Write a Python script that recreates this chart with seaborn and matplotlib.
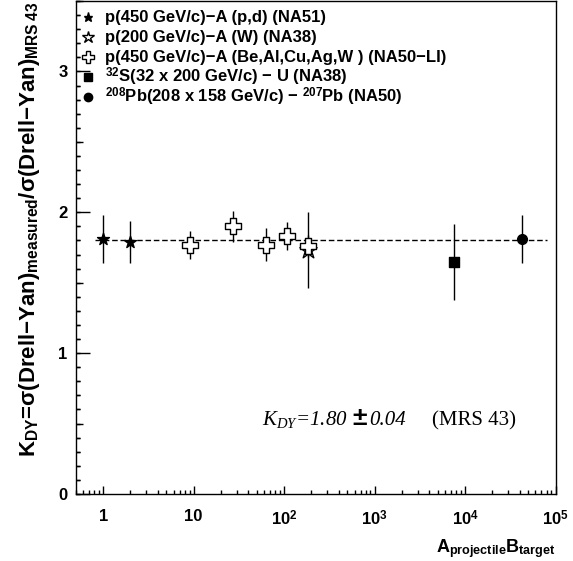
import numpy as np
import pandas as pd
import matplotlib
matplotlib.use("Agg")
import matplotlib.pyplot as plt
import seaborn as sns
from matplotlib.ticker import FixedLocator, NullFormatter, MultipleLocator

# ---- data ----
na51_x = [1, 2]
na51_y = [1.81, 1.79]
na51_err = [0.17, 0.15]

na38p_x = [184]
na38p_y = [1.73]
na38p_err = [0.27]

na50li_x = [9, 27, 63.5, 108, 184]
na50li_y = [1.77, 1.90, 1.77, 1.83, 1.76]
na50li_err = [0.10, 0.11, 0.115, 0.10, 0.08]

su_x = [7616]
su_y = [1.65]
su_err = [0.27]

pbpb_x = [43056]
pbpb_y = [1.81]
pbpb_err = [0.17]

kdy = 1.80
kdy_err = 0.04
kdy_range = [0.82, 8.0e4]

labels = [
    "p(450 GeV/c)−A (p,d) (NA51)",
    "p(200 GeV/c)−A (W) (NA38)",
    "p(450 GeV/c)−A (Be,Al,Cu,Ag,W ) (NA50−LI)",
    r"$^{32}$S(32 x 200 GeV/c) − U (NA38)",
    r"$^{208}$Pb(208 x 158 GeV/c) − $^{207}$Pb (NA50)",
]
xtick_vals = [1, 10, 100, 1000, 1e4, 1e5]
xtick_labels = ["1", "10", r"$10^{2}$", r"$10^{3}$", r"$10^{4}$", r"$10^{5}$"]
ytick_vals = [0, 1, 2, 3]
ytick_mid = [0.5, 1.5, 2.5, 3.5]

SANS = "Liberation Sans"
sns.set_theme(style="ticks")
plt.rcParams["font.family"] = [SANS, "DejaVu Sans"]
plt.rcParams["mathtext.fontset"] = "custom"
plt.rcParams["mathtext.rm"] = SANS + ":bold"
plt.rcParams["mathtext.bf"] = SANS + ":bold"
plt.rcParams["mathtext.it"] = "Liberation Serif:italic"
plt.rcParams["axes.unicode_minus"] = True
for k in ["text.color", "axes.labelcolor", "xtick.color", "ytick.color", "axes.edgecolor"]:
    plt.rcParams[k] = "black"

W, H = 573, 561
AX_L, AX_R, AX_T, AX_B = 76, 555.5, 1, 494
fig = plt.figure(figsize=(W / 100, H / 100), dpi=100)
ax = fig.add_axes([AX_L / W, (H - AX_B) / H, (AX_R - AX_L) / W, (AX_B - AX_T) / H])
ax.set_xscale("log")
ax.set_xlim(0.5, 1e5)
ax.set_ylim(0, 3.5)


def fx(px):
    return (px - AX_L) / (AX_R - AX_L)


def fy(py):
    return (AX_B - py) / (AX_B - AX_T)


# reference line
ax.plot(kdy_range, [kdy, kdy], ls=(0, (4, 2)), color="black", lw=1.0, zorder=1)

series = [
    (na51_x, na51_y, na51_err, "*", 9, 6.5, "black", labels[0]),
    (na38p_x, na38p_y, na38p_err, "*", 13, 9, "white", labels[1]),
    (na50li_x, na50li_y, na50li_err, "P", 12, 8.5, "white", labels[2]),
    (su_x, su_y, su_err, "s", 6.5, 5.5, "black", labels[3]),
    (pbpb_x, pbpb_y, pbpb_err, "o", 7, 6, "black", labels[4]),
]
row_base = 22.0
row_step = 20.0
for i, (xs, ys, es, mk, ms, lms, fc, lab) in enumerate(series):
    ax.errorbar(xs, ys, yerr=es, fmt="none", ecolor="black", elinewidth=1.0, capsize=0, zorder=2)
    df = pd.DataFrame({"x": xs, "y": ys})
    sns.scatterplot(data=df, x="x", y="y", marker=mk, s=ms ** 2, color=fc,
                    edgecolor="black", linewidth=1.0, ax=ax, zorder=3, legend=False)
    # legend entry
    base = row_base + i * row_step
    ax.plot([fx(88)], [fy(base - 5.5)], ls="none", marker=mk, markersize=lms,
            markerfacecolor=fc, markeredgecolor="black", markeredgewidth=1.0,
            transform=ax.transAxes, clip_on=False)
    ax.text(fx(105), fy(base), lab, transform=ax.transAxes, ha="left", va="baseline",
            fontsize=12, fontweight="bold", family=SANS)

# ticks
ax.xaxis.set_major_locator(FixedLocator(xtick_vals))
ax.set_xticklabels(xtick_labels)
minors = [m * 10.0 ** d for d in range(-1, 5) for m in range(2, 10)]
ax.xaxis.set_minor_locator(FixedLocator([v for v in minors if 0.5 <= v <= 1e5]))
ax.xaxis.set_minor_formatter(NullFormatter())
ax.yaxis.set_major_locator(FixedLocator(ytick_vals))
ax.yaxis.set_minor_locator(MultipleLocator(0.1))
ax.yaxis.set_minor_formatter(NullFormatter())
ax.tick_params(axis="x", which="major", direction="in", length=6, width=1,
               labelsize=12, pad=11, top=False)
ax.tick_params(axis="x", which="minor", direction="in", length=3, width=1, top=False)
ax.tick_params(axis="y", which="major", direction="in", length=10, width=1,
               labelsize=12, pad=6, right=False)
ax.tick_params(axis="y", which="minor", direction="in", length=3, width=1,
               left=True, right=False)
for lab in ax.get_xticklabels() + ax.get_yticklabels():
    lab.set_fontweight("bold")

sec = ax.secondary_yaxis("left")
sec.set_yticks(ytick_mid)
sec.set_yticklabels([])
sec.yaxis.set_minor_locator(MultipleLocator(0.1))
sec.tick_params(which="major", direction="in", length=5, width=1)
sec.tick_params(which="minor", direction="in", length=3, width=1, left=True)
sec.spines["left"].set_visible(False)

for sp in ax.spines.values():
    sp.set_linewidth(1.0)
    sp.set_color("black")

ax.set_xlabel(r"A$_{\mathbf{projectile}}$B$_{\mathbf{target}}$", fontsize=13, fontweight="bold")
ax.xaxis.set_label_coords(1.0, -0.087)
ax.xaxis.label.set_horizontalalignment("right")
ax.set_ylabel(r"K$_{\mathbf{DY}}$=σ(Drell−Yan)$_{\mathbf{measured}}$/σ(Drell−Yan)$_{\mathbf{MRS\ 43}}$",
              fontsize=16, fontweight="bold")
ax.yaxis.set_label_coords(-0.07, 1.0)
ax.yaxis.label.set_horizontalalignment("right")

# annotation
ty = fy(425)
ax.text(fx(262), ty, r"$K_{DY}$=%.2f" % kdy, transform=ax.transAxes, fontsize=15,
        family="Liberation Serif", style="italic", ha="left", va="baseline")
ax.text(fx(352), ty, "±", transform=ax.transAxes, fontsize=19,
        family="Liberation Sans", weight="bold", ha="left", va="baseline")
ax.text(fx(369), ty, "%.2f" % kdy_err, transform=ax.transAxes, fontsize=15,
        family="Liberation Serif", style="italic", ha="left", va="baseline")
ax.text(fx(432), ty, "(MRS 43)", transform=ax.transAxes, fontsize=15,
        family="Liberation Serif", ha="left", va="baseline")

fig.savefig("out.png", dpi=100)
